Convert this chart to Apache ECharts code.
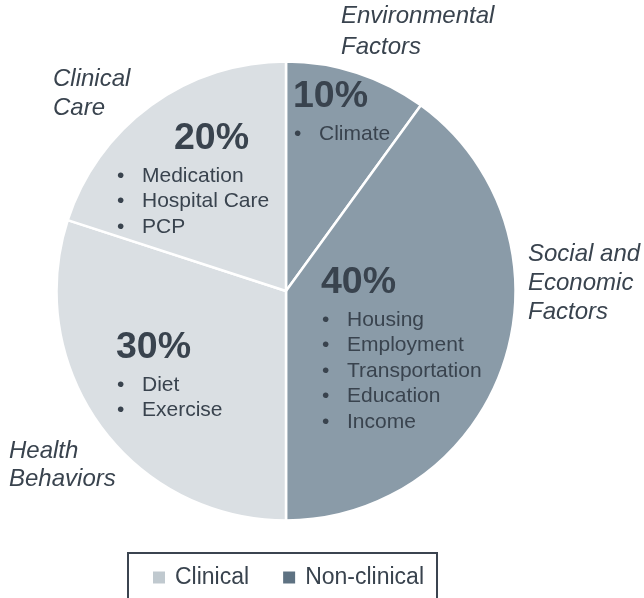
<!DOCTYPE html>
<html>
<head>
<meta charset="utf-8">
<script src="https://cdn.jsdelivr.net/npm/echarts@6/dist/echarts.min.js"></script>
<style>
  html, body { margin: 0; padding: 0; background: #ffffff; }
  #chart { width: 644px; height: 598px; }
</style>
</head>
<body>
<div id="chart"></div>
<script>
// ---- data ----
const categories = ['Environmental Factors', 'Social and Economic Factors', 'Health Behaviors', 'Clinical Care'];
const shares = [10, 40, 30, 20];
const groups = ['Non-clinical', 'Non-clinical', 'Clinical', 'Clinical'];
const driversEnvironmental = ['Climate'];
const driversSocial = ['Housing', 'Employment', 'Transportation', 'Education', 'Income'];
const driversBehaviors = ['Diet', 'Exercise'];
const driversClinical = ['Medication', 'Hospital Care', 'PCP'];
const drivers = [driversEnvironmental, driversSocial, driversBehaviors, driversClinical];
const legendNames = ['Clinical', 'Non-clinical'];

// ---- style / layout ----
const FONT = '"Liberation Sans", Arial, Helvetica, sans-serif';
const TEXT = '#39434e';
const sliceColor = { 'Clinical': '#dadfe3', 'Non-clinical': '#8a9ba8' };
const keyColor = { 'Clinical': '#c0c9cf', 'Non-clinical': '#5e7282' };
const CX = 286, CY = 291, R = 229.5;
// inner label block anchors (top-left) and header indent
const innerPos = [[293, 71.5], [321, 257.5], [116, 322.5], [116, 113.5]];
const headIndent = [0, 0, 0, 58];
// outer category name placement
const outerPos = [
  { x: 341, y: 0.5, lh: 31, lines: ['Environmental', 'Factors'] },
  { x: 528, y: 239.5, lh: 29, lines: ['Social and', 'Economic', 'Factors'] },
  { x: 9, y: 437, lh: 28, lines: ['Health', 'Behaviors'] },
  { x: 53, y: 64.5, lh: 29, lines: ['Clinical', 'Care'] }
];

const chart = echarts.init(document.getElementById('chart'), null, { renderer: 'canvas' });

const pieData = categories.map((c, i) => ({
  name: c,
  value: shares[i],
  itemStyle: { color: sliceColor[groups[i]] }
}));

const option = {
  animation: false,
  backgroundColor: '#ffffff',
  legend: {
    data: legendNames,
    left: 128,
    top: 553,
    orient: 'horizontal',
    icon: 'rect',
    itemWidth: 12,
    itemHeight: 12,
    itemGap: 34,
    borderColor: '#3b4450',
    borderWidth: 2,
    padding: [13, 13, 40, 25],
    textStyle: { fontFamily: FONT, fontSize: 23, color: TEXT, padding: [0, 0, 0, 5] },
    selectedMode: false
  },
  graphic: categories.map((c, i) => ({
    type: 'text',
    silent: true,
    style: {
      x: outerPos[i].x,
      y: outerPos[i].y,
      text: outerPos[i].lines.join('\n'),
      fontFamily: FONT,
      fontStyle: 'italic',
      fontSize: 24,
      lineHeight: outerPos[i].lh,
      fill: TEXT,
      align: 'left',
      verticalAlign: 'top'
    }
  })),
  series: [
    {
      type: 'pie',
      name: 'Drivers',
      center: [CX, CY],
      radius: R,
      startAngle: 90,
      clockwise: true,
      silent: true,
      avoidLabelOverlap: false,
      itemStyle: { borderColor: '#ffffff', borderWidth: 2.5 },
      label: {
        show: true,
        position: 'inside',
        fontFamily: FONT,
        color: TEXT,
        formatter: function (p) {
          const i = p.dataIndex;
          const head = '{' + (headIndent[i] ? 'pctI' : 'pct') + '|' + shares[i] + '%}';
          const items = drivers[i].map(d => '{b|•}{t|' + d + '}');
          return [head].concat(items).join('\n');
        },
        rich: {
          pct: { fontFamily: FONT, fontSize: 37.5, fontWeight: 'bold', lineHeight: 50, color: TEXT },
          pctI: { fontFamily: FONT, fontSize: 37.5, fontWeight: 'bold', lineHeight: 50, color: TEXT, padding: [0, 0, 0, 58] },
          b: { fontFamily: FONT, fontSize: 21, lineHeight: 25.4, width: 25, color: TEXT, padding: [0, 0, 0, 1] },
          t: { fontFamily: FONT, fontSize: 21, lineHeight: 25.4, color: TEXT }
        }
      },
      labelLine: { show: false },
      labelLayout: function (params) {
        const i = params.dataIndex;
        return { x: innerPos[i][0], y: innerPos[i][1], align: 'left', verticalAlign: 'top' };
      },
      data: pieData
    },
    {
      type: 'pie',
      name: 'Key',
      center: [CX, CY],
      radius: [0, 0],
      silent: true,
      label: { show: false },
      labelLine: { show: false },
      itemStyle: { borderWidth: 0 },
      data: legendNames.map(n => ({ name: n, value: 1, itemStyle: { color: keyColor[n] } }))
    }
  ]
};

chart.setOption(option);
</script>
</body>
</html>
